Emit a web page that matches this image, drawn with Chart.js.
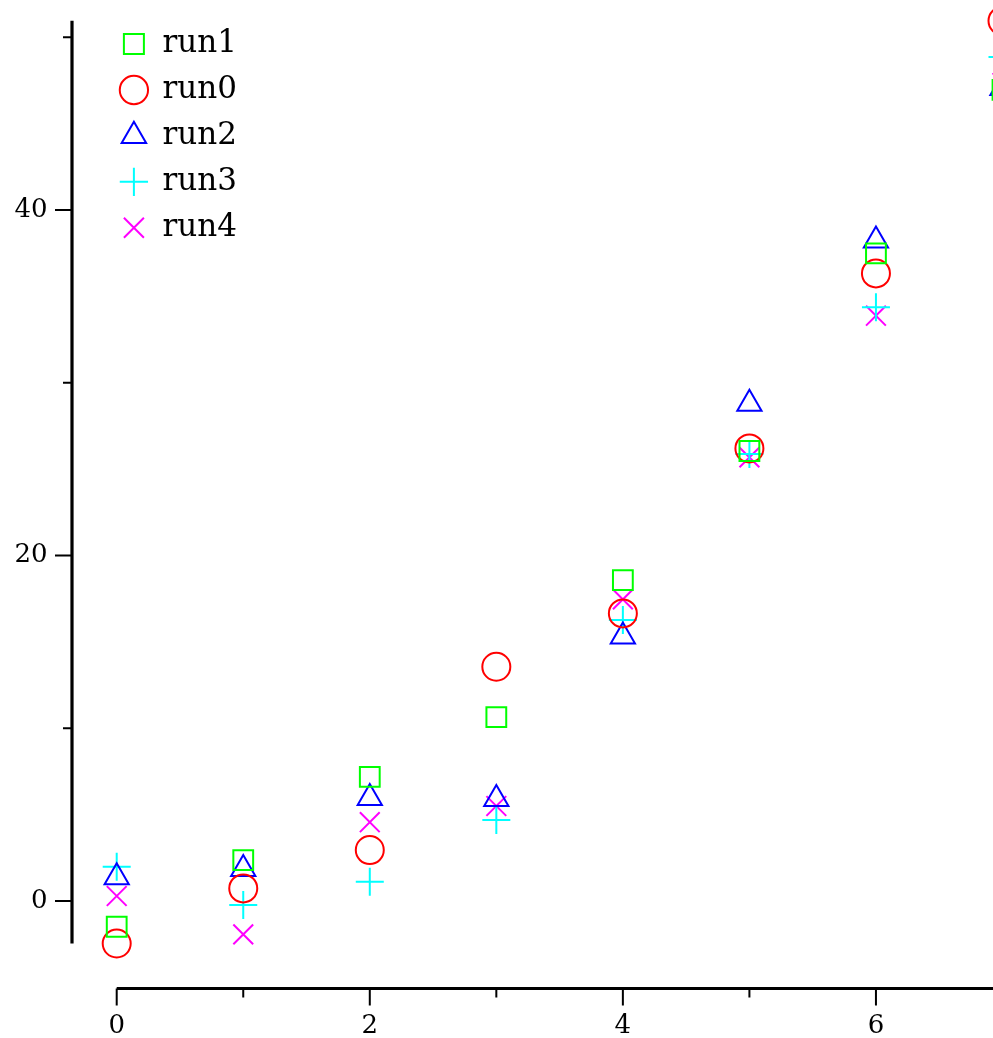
<!DOCTYPE html>
<html>
<head>
<meta charset="utf-8">
<script src="https://cdn.jsdelivr.net/npm/chart.js@4.4.1/dist/chart.umd.min.js"></script>
<style>
  html, body { margin: 0; padding: 0; background: #ffffff; }
  canvas { display: block; }
</style>
</head>
<body>
<canvas id="c" width="993" height="1038"></canvas>
<script>
// Measurements per run at each step
const xValues = [0, 1, 2, 3, 4, 5, 6, 7];
const run1 = [-1.49, 2.37, 7.18, 10.65, 18.58, 26.05, 37.49, 46.95];
const run0 = [-2.46, 0.73, 2.95, 13.56, 16.65, 26.2, 36.33, 50.95];
const run2 = [1.38, 1.85, 5.96, 5.9, 15.31, 28.78, 38.24, 47.06];
const run3 = [1.99, -0.23, 1.12, 4.69, 16.27, 25.88, 34.37, 48.86];
const run4 = [0.29, -1.93, 4.56, 5.5, 17.46, 25.68, 33.88, 47.35];

// Axis ticks: labelled (major) and unlabelled (minor)
const xTickLabels = [0, 2, 4, 6];
const xMinorTicks = [1, 3, 5];
const yTickLabels = [0, 20, 40];
const yMinorTicks = [10, 30, 50];

const SERIF = "'DejaVu Serif', 'Liberation Serif', serif";

function points(ys) {
  return xValues.map((x, i) => ({ x: x, y: ys[i] }));
}

function series(label, ys, color, style) {
  return {
    label: label,
    data: points(ys),
    pointStyle: style,
    pointRadius: 14,
    pointHoverRadius: 14,
    pointBorderWidth: 2,
    borderWidth: 2,
    borderColor: color,
    backgroundColor: 'rgba(0,0,0,0)',
    pointBackgroundColor: 'rgba(0,0,0,0)',
    showLine: false,
    clip: false
  };
}

// Range-frame axes: each spine covers only the span of the data,
// set a little apart from the plotting region, with long and short ticks.
const rangeFrame = {
  id: 'rangeFrame',
  beforeDatasetsDraw(chart) {
    const { ctx, chartArea, scales } = chart;
    const xs = scales.x, ys = scales.y;
    const allX = [], allY = [];
    chart.data.datasets.forEach(d => d.data.forEach(p => { allX.push(p.x); allY.push(p.y); }));
    const spineX = chartArea.left - 34;
    const spineY = chartArea.bottom + 0.5;
    const majorLen = 17, minorLen = 9;

    ctx.save();
    ctx.strokeStyle = '#000000';
    ctx.lineCap = 'butt';
    ctx.lineWidth = 3.2;
    ctx.beginPath();
    ctx.moveTo(spineX, ys.getPixelForValue(Math.max(...allY)));
    ctx.lineTo(spineX, ys.getPixelForValue(Math.min(...allY)));
    ctx.moveTo(xs.getPixelForValue(Math.min(...allX)), spineY);
    ctx.lineTo(xs.getPixelForValue(Math.max(...allX)), spineY);
    ctx.stroke();

    ctx.lineWidth = 2;
    ctx.beginPath();
    yTickLabels.forEach(v => {
      const p = ys.getPixelForValue(v);
      ctx.moveTo(spineX, p); ctx.lineTo(spineX - majorLen, p);
    });
    yMinorTicks.forEach(v => {
      const p = ys.getPixelForValue(v);
      ctx.moveTo(spineX, p); ctx.lineTo(spineX - minorLen, p);
    });
    xTickLabels.forEach(v => {
      const p = xs.getPixelForValue(v);
      ctx.moveTo(p, spineY); ctx.lineTo(p, spineY + majorLen);
    });
    xMinorTicks.forEach(v => {
      const p = xs.getPixelForValue(v);
      ctx.moveTo(p, spineY); ctx.lineTo(p, spineY + minorLen);
    });
    ctx.stroke();
    ctx.restore();
  }
};

new Chart(document.getElementById('c'), {
  type: 'scatter',
  data: {
    datasets: [
      series('run1', run1, '#00ff00', 'rect'),
      series('run0', run0, '#ff0000', 'circle'),
      series('run2', run2, '#0000ff', 'triangle'),
      series('run3', run3, '#00ffff', 'cross'),
      series('run4', run4, '#ff00ff', 'crossRot')
    ]
  },
  options: {
    responsive: false,
    animation: false,
    devicePixelRatio: 1,
    events: [],
    layout: { autoPadding: false, padding: { top: 11, left: 0, right: 0, bottom: 0 } },
    plugins: {
      tooltip: { enabled: false },
      legend: {
        position: 'chartArea',
        align: 'start',
        // blank title only reserves the space above the first entry
        title: { display: true, text: '', padding: 0, font: { size: 13.7, lineHeight: 1 } },
        labels: {
          usePointStyle: true,
          boxWidth: 26,
          boxHeight: 20,
          padding: 14.9,
          color: '#000000',
          font: { family: SERIF, size: 31 }
        }
      }
    },
    scales: {
      x: {
        type: 'linear',
        bounds: 'data',
        afterDataLimits: s => { s.min = -0.0846; s.max = 6.925; },
        afterBuildTicks: s => { s.ticks = xTickLabels.map(v => ({ value: v })); },
        afterFit: s => { s.height = 50; s.paddingLeft = 0; s.paddingRight = 0; },
        border: { display: false },
        grid: { display: false, drawTicks: false },
        ticks: {
          autoSkip: false,
          maxRotation: 0,
          padding: 22.5,
          color: '#000000',
          font: { family: SERIF, size: 26 }
        }
      },
      y: {
        type: 'linear',
        min: -5.036,
        max: 51.52,
        afterBuildTicks: s => { s.ticks = yTickLabels.map(v => ({ value: v })); },
        afterFit: s => { s.width = 106; s.paddingTop = 0; s.paddingBottom = 0; },
        border: { display: false },
        grid: { display: false, drawTicks: false },
        ticks: {
          autoSkip: false,
          padding: 58.5,
          color: '#000000',
          font: { family: SERIF, size: 26 }
        }
      }
    }
  },
  plugins: [rangeFrame]
});
</script>
</body>
</html>
